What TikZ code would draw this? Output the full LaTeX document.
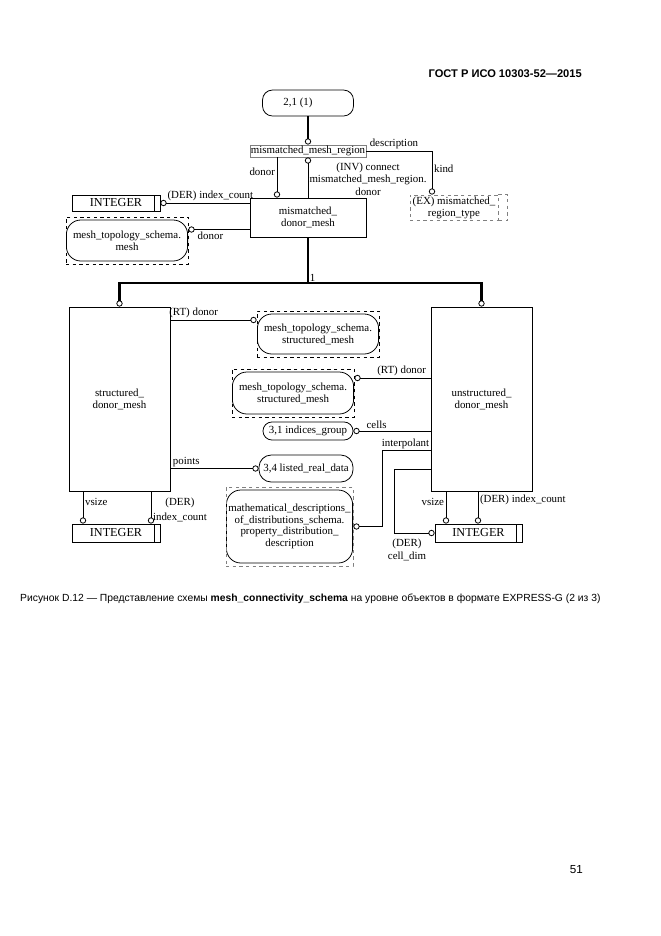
\documentclass[tikz,border=0pt]{standalone}
\usepackage{fontspec}
\setmainfont{Liberation Serif}
\newfontfamily\gostfont{Liberation Sans}
\usetikzlibrary{arrows.meta, positioning, calc}
\newcommand{\pxu}{0.9pt}
\tikzstyle{entity} = [rectangle, draw=black, line width=0.7pt, inner sep=0pt, align=center, text centered]
\tikzstyle{pageref} = [rectangle, rounded corners=9pt, draw=black, line width=0.7pt, inner sep=0pt, align=center]
\tikzstyle{typebox} = [rectangle, draw=black, line width=0.7pt, inner sep=0pt, font=\fontsize{11}{12}\selectfont, path picture={ \draw[black, line width=0.7pt] ([xshift=-5.4pt]path picture bounding box.north east) -- ([xshift=-5.4pt]path picture bounding box.south east); }]
\tikzstyle{schemaref} = [rectangle, draw=black, dashed, line width=0.7pt, inner sep=0pt, align=center, path picture={ \draw[black, solid, line width=0.7pt, rounded corners=13pt] ($(path picture bounding box.south west)+(0.35pt,2.7pt)$) rectangle ($(path picture bounding box.north east)-(0.35pt,2.7pt)$); }]
\tikzstyle{rel} = [line width=0.7pt, -{Circle[open, length=5.6pt, width=5.6pt]}]
\tikzstyle{super} = [line width=2.2pt, -{Circle[open, length=5.6pt, width=5.6pt, line width=0.7pt]}]
\tikzstyle{superline} = [line width=2.2pt]
\tikzstyle{lbl} = [inner sep=1.5pt]
\begin{document}
\begin{tikzpicture}[x=0.9pt, y=-0.9pt, font=\fontsize{9.8}{10.8}\selectfont]
\useasboundingbox (0,0) rectangle (661,936);
\node (header) [anchor=base east, inner sep=0pt, font=\gostfont\bfseries\fontsize{10}{12}\selectfont] at (582,77) {ГОСТ Р ИСО 10303-52—2015};
\node (one) [pageref, minimum width=91*\pxu, minimum height=26*\pxu] at (308,103) {2,1 (1)\hspace*{18pt}};
\node (region) [entity, draw=gray, minimum width=116*\pxu, minimum height=12*\pxu] at (308,151) {mismatched\_mesh\_region};
\node (donormesh) [entity, minimum width=116*\pxu, minimum height=39*\pxu] at (308,217.5) {mismatched\_\\donor\_mesh};
\node (int1) [typebox, minimum width=88*\pxu, minimum height=16*\pxu] at (116,203) {INTEGER};
\node (meshref) [schemaref, minimum width=122*\pxu, minimum height=47*\pxu] at (127,240.5) {mesh\_topology\_schema.\\mesh};
\node (extype) [entity, dashed, draw=gray, minimum width=88*\pxu, minimum height=25*\pxu] at (454,207.5) {(EX) mismatched\_\\region\_type};
\node (sdm) [entity, minimum width=101*\pxu, minimum height=184*\pxu] at (119.5,399) {structured\_\\donor\_mesh};
\node (udm) [entity, minimum width=101*\pxu, minimum height=184*\pxu] at (481.5,399) {unstructured\_\\donor\_mesh};
\node (sref1) [schemaref, minimum width=122*\pxu, minimum height=46*\pxu] at (318,334) {mesh\_topology\_schema.\\structured\_mesh};
\node (sref2) [schemaref, minimum width=122*\pxu, minimum height=48*\pxu] at (293,393) {mesh\_topology\_schema.\\structured\_mesh};
\node (idx) [pageref, rounded corners=8pt, minimum width=90*\pxu, minimum height=18*\pxu] at (308,431) {3,1 indices\_group};
\node (lrd) [pageref, rounded corners=11pt, minimum width=94*\pxu, minimum height=27*\pxu] at (306,468.5) {3,4 listed\_real\_data};
\node (math) [schemaref, draw=gray, minimum width=127*\pxu, minimum height=79*\pxu, font=\fontsize{9.8}{10.5}\selectfont] at (289.5,526.5) {mathematical\_descriptions\_\\of\_distributions\_schema.\\property\_distribution\_\\description};
\node (int2) [typebox, minimum width=88*\pxu, minimum height=18*\pxu] at (116,533) {INTEGER};
\node (int3) [typebox, minimum width=87*\pxu, minimum height=18*\pxu] at (478.5,533) {INTEGER};
\draw [dashed, draw=gray, line width=0.7pt] (extype.north east) -- ++(9,0) |- (extype.south east);

\coordinate (desc) at (432,0);
\coordinate (mdonor) at ($(meshref.east)+(0,-11)$);
\coordinate (split) at (308,283);
\coordinate (rtl) at ($(sref1.west)+(0,-14)$);
\coordinate (rtr) at ($(sref2.east)+(0,-15)$);
\coordinate (ip) at (382,450);
\coordinate (cd) at (394,469);
\coordinate (vs1) at (83,0);
\coordinate (ic1) at (151,0);
\coordinate (vs2) at (446,0);
\coordinate (ic2) at (478,0);

\draw [super] (one) -- (region);
\draw [rel] (donormesh.north) -- node (inv) [lbl, right, pos=0.46, inner sep=1pt, align=center, font=\fontsize{9.8}{11.2}\selectfont] {(INV) connect\\mismatched\_mesh\_region.\\donor} (region.south);
\draw [rel] ($(region.south)+(-31,0)$) -- node (ldonor) [lbl, left, pos=0.35] {donor} ($(donormesh.north)+(-31,0)$);
\draw [rel] (region.east) -| node (ldesc) [lbl, above, pos=0.21] {description} node (lkind) [lbl, right, pos=0.7] {kind} (desc |- extype.north);
\draw [rel] (donormesh.west |- int1.east) -- node (lic) [lbl, above, pos=0.44] {(DER) index\_count} (int1.east);
\draw [rel] (mdonor -| donormesh.west) -- node (lmdonor) [lbl, below, pos=0.64] {donor} (mdonor);

\draw [superline] (donormesh.south) -- (split);
\draw [super] (split) -| (sdm.north);
\draw [super] (split) -| (udm.north);
\node (card) [above right, inner sep=1.5pt] at (split) {1};

\draw [rel] (rtl -| sdm.east) -- node (lrtl) [lbl, above, pos=0.27] {(RT) donor} (rtl);
\draw [rel] (rtr -| udm.west) -- node (lrtr) [lbl, above, pos=0.38] {(RT) donor} (rtr);
\draw [rel] (udm.west |- idx.east) -- node (lcells) [lbl, above, pos=0.7] {cells} (idx.east);
\draw [rel] (ip -| udm.west) node (linterp) [above left, inner sep=1pt] {interpolant} -- (ip) |- (math.east);
\draw [rel] (cd -| udm.west) -- (cd) |- (int3.west);
\node (lcelldim) [below, align=center, inner sep=1pt, font=\fontsize{9.8}{11.7}\selectfont] at ($(cd |- int3.west)+(13,5)$) {(DER)\\cell\_dim};
\draw [rel] (sdm.east |- lrd.west) -- node (lpoints) [lbl, above, pos=0.18] {points} (lrd.west);

\draw [rel] (sdm.south -| vs1) -- node (lvs1) [lbl, right, pos=0.33] {vsize} (int2.north -| vs1);
\draw [rel] (sdm.south -| ic1) -- node (lic1) [lbl, right, pos=0.59, align=center, font=\fontsize{9.8}{13.5}\selectfont] {(DER)\\index\_count} (int2.north -| ic1);
\draw [rel] (udm.south -| vs2) -- node (lvs2) [lbl, left, pos=0.33] {vsize} (int3.north -| vs2);
\draw [rel] (udm.south -| ic2) -- node (lic2) [lbl, right, pos=0.27] {(DER) index\_count} (int3.north -| ic2);

\node (caption) [anchor=base west, inner sep=0pt, font=\gostfont\fontsize{9.3}{11}\selectfont] at (20,601) {Рисунок D.12 — Представление схемы \textbf{mesh\_connectivity\_schema} на уровне объектов в формате EXPRESS-G (2 из 3)};
\node (pagenum) [anchor=base east, inner sep=0pt, font=\gostfont\fontsize{10.5}{12}\selectfont] at (583,873) {51};
\end{tikzpicture}
\end{document}
